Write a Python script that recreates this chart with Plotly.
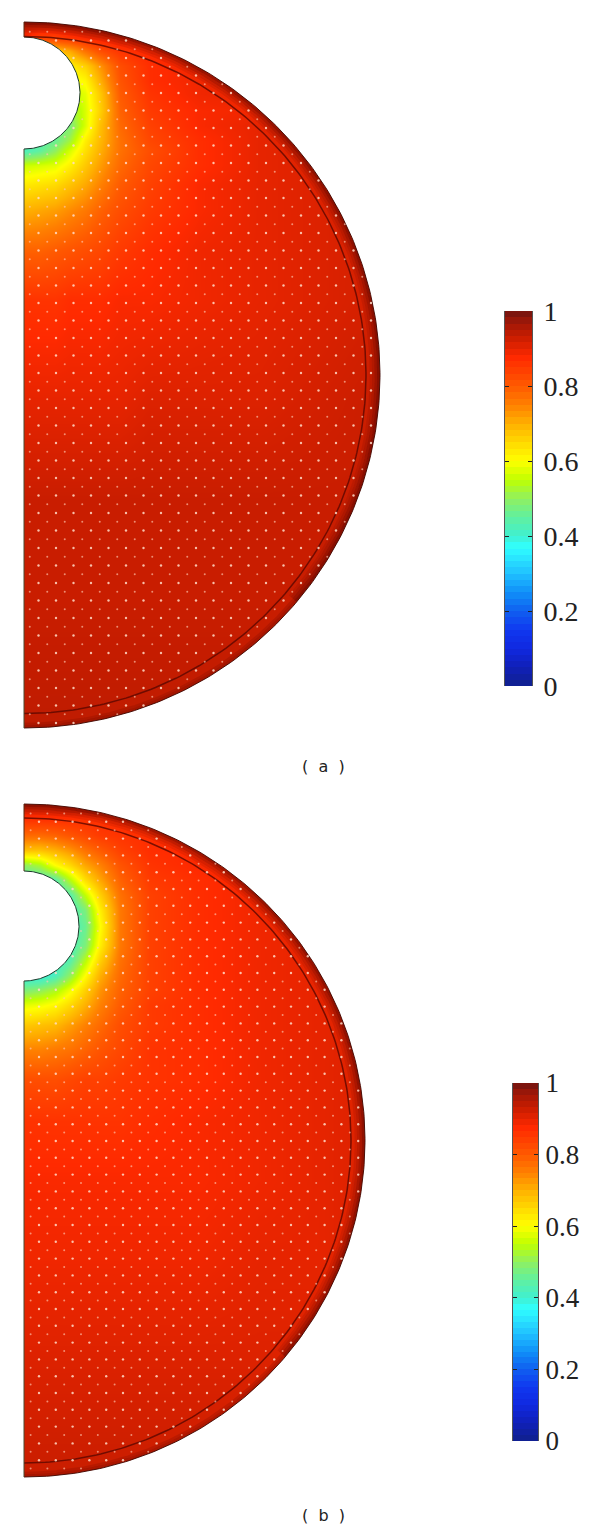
import numpy as np
import plotly.graph_objects as go

PAGE_W = 600
PAGE_H = 1531

# colour ramp
scale_stops = [0, .05, .1, .15, .2, .25, .3, .37, .4, .45, .5, .55, .6, .65, .7, .75, .8, .875, .935, .97, 1]
scale_colors = ['#10208c', '#1020b8', '#1028e0', '#1038f0', '#1060f0', '#1090f8', '#20c0ff', '#30ffff',
                '#40f0d0', '#60f0a0', '#90f060', '#bfff00', '#ffff00', '#ffd800', '#ffb000', '#ff8000',
                '#ff5a00', '#ff2a00', '#c41c00', '#a01808', '#701410']

# panel (a) field
a_x = [24, 40, 55, 70, 85, 100, 120, 150, 200, 260, 320, 380]
a_y = [22, 37, 50, 65, 80, 93, 110, 125, 140, 150, 165, 185, 210, 250, 300, 400, 500, 600, 728]
a_z = [
    [.93, .93, .93, .94, .94, .94, .95, .95, .96, .96, .96, .96],
    [.88, .84, .84, .86, .88, .89, .90, .90, .90, .90, .90, .90],
    [.70, .70, .68, .71, .77, .82, .86, .88, .89, .90, .90, .90],
    [.62, .62, .62, .62, .66, .73, .82, .87, .89, .90, .90, .90],
    [.58, .58, .58, .58, .61, .70, .81, .87, .89, .90, .91, .91],
    [.55, .55, .55, .55, .58, .67, .80, .86, .89, .90, .91, .91],
    [.50, .50, .50, .50, .57, .66, .79, .85, .88, .89, .91, .91],
    [.46, .46, .46, .48, .57, .68, .78, .84, .88, .90, .91, .91],
    [.44, .44, .46, .52, .62, .69, .77, .83, .87, .90, .91, .92],
    [.42, .45, .50, .57, .64, .70, .77, .82, .87, .90, .91, .92],
    [.56, .57, .58, .62, .67, .72, .78, .83, .87, .90, .91, .92],
    [.63, .64, .65, .68, .71, .75, .80, .84, .88, .90, .91, .92],
    [.70, .71, .72, .74, .76, .79, .82, .85, .88, .90, .91, .92],
    [.79, .79, .80, .81, .82, .83, .85, .87, .89, .90, .91, .92],
    [.86, .86, .86, .87, .87, .87, .88, .88, .89, .90, .91, .92],
    [.90, .90, .90, .90, .90, .90, .90, .91, .91, .91, .92, .93],
    [.93, .93, .93, .93, .93, .93, .93, .93, .93, .93, .93, .93],
    [.93, .93, .93, .93, .93, .93, .93, .93, .93, .93, .93, .93],
    [.94, .94, .94, .94, .94, .94, .94, .94, .94, .94, .94, .94],
]

# panel (b) field
b_x = [24, 40, 55, 70, 85, 100, 120, 150, 200, 260, 320, 365]
b_y = [804, 818, 835, 850, 865, 880, 895, 910, 926, 945, 960, 975, 990, 1005, 1025, 1050, 1080,
       1120, 1180, 1260, 1360, 1477]
b_z = [
    [.92, .92, .92, .92, .92, .93, .93, .94, .95, .95, .95, .95],
    [.87, .87, .87, .87, .87, .87, .88, .88, .89, .90, .90, .90],
    [.78, .78, .79, .81, .83, .85, .86, .87, .88, .89, .90, .90],
    [.68, .68, .70, .73, .77, .80, .84, .87, .88, .89, .90, .90],
    [.50, .53, .60, .65, .71, .75, .81, .86, .88, .89, .90, .90],
    [.42, .42, .44, .54, .64, .71, .79, .85, .87, .89, .90, .90],
    [.42, .42, .42, .44, .55, .66, .77, .84, .87, .89, .90, .91],
    [.42, .42, .42, .42, .48, .62, .76, .84, .87, .89, .90, .91],
    [.42, .42, .42, .42, .46, .60, .76, .84, .87, .89, .90, .91],
    [.42, .42, .42, .42, .48, .62, .76, .84, .87, .89, .90, .91],
    [.40, .40, .40, .44, .54, .66, .77, .84, .87, .89, .90, .91],
    [.38, .38, .42, .50, .60, .70, .78, .84, .87, .89, .90, .91],
    [.48, .50, .53, .59, .66, .73, .79, .84, .87, .89, .90, .91],
    [.58, .59, .61, .65, .70, .75, .80, .85, .87, .89, .90, .91],
    [.67, .68, .69, .72, .75, .78, .82, .85, .87, .89, .90, .91],
    [.75, .75, .76, .77, .79, .81, .83, .86, .87, .89, .90, .91],
    [.82, .82, .82, .83, .84, .84, .85, .86, .87, .89, .90, .91],
    [.86, .86, .86, .86, .86, .86, .86, .87, .88, .89, .90, .91],
    [.88, .88, .88, .88, .88, .88, .88, .88, .88, .89, .90, .91],
    [.89, .89, .89, .89, .89, .89, .89, .89, .89, .90, .90, .91],
    [.91, .91, .91, .91, .91, .91, .91, .91, .91, .91, .91, .92],
    [.93, .93, .93, .93, .93, .93, .93, .93, .93, .93, .93, .93],
]

tick_vals = [0, 0.2, 0.4, 0.6, 0.8, 1]
tick_text = ['0', '0.2', '0.4', '0.6', '0.8', '1']
bar_levels = [i / 60 for i in range(61)]

colorscale = [[s, c] for s, c in zip(scale_stops, scale_colors)]


def arc(cx, cy, rx, ry, a0=-90, a1=90, n=240):
    t = np.radians(np.linspace(a0, a1, n))
    return cx + rx * np.cos(t), cy + ry * np.sin(t)


def line(x, y, color, width):
    return go.Scatter(x=x, y=y, mode='lines', line=dict(color=color, width=width), hoverinfo='skip')


def add_panel(fig, xs, ys, zs, cy, rx, ry, ix, iy, hole_cy, hole_r, dot_x, dot_y, dot_dx, dot_dy):
    cx = 24
    top, bottom = cy - ry, cy + ry
    fig.add_trace(go.Heatmap(x=xs, y=ys, z=zs, zmin=0, zmax=1, zsmooth='best',
                             colorscale=colorscale, showscale=False, hoverinfo='skip'))

    # white masks around the half disc and over the hole
    ax, ay = arc(cx, cy, rx, ry)
    ax = np.r_[ax, cx, cx + rx + 50, cx + rx + 50, cx]
    ay = np.r_[ay, bottom + 72, bottom + 72, top - 20, top - 20]
    fig.add_trace(go.Scatter(x=ax, y=ay, mode='lines', fill='toself', fillcolor='white',
                             line=dict(width=0), hoverinfo='skip'))
    fig.add_trace(go.Scatter(x=[cx - 20, cx, cx, cx - 20], y=[top - 20, top - 20, bottom + 72, bottom + 72],
                             mode='lines', fill='toself', fillcolor='white', line=dict(width=0), hoverinfo='skip'))
    hx, hy = arc(cx, hole_cy, hole_r, hole_r)
    fig.add_trace(go.Scatter(x=hx, y=hy, mode='lines', fill='toself', fillcolor='white',
                             line=dict(color='#1d3a2c', width=1), hoverinfo='skip'))

    # darkening toward the outer wall of the shell
    for k, alpha in [(1.5, .5), (4, .34), (6.5, .2), (9, .1)]:
        x, y = arc(cx, cy, rx - k, ry - k, a0=-90, a1=40)
        fig.add_trace(line(x, y, f'rgba(70,0,0,{alpha})', 2.6))
    for k, alpha in [(1.5, .25), (4, .14)]:
        x, y = arc(cx, cy, rx - k, ry - k, a0=40, a1=90)
        fig.add_trace(line(x, y, f'rgba(70,0,0,{alpha})', 2.6))

    x, y = arc(cx, cy, ix, iy)
    fig.add_trace(line(x, y, 'rgba(90,8,0,.8)', 1.5))
    x, y = arc(cx, cy, rx, ry)
    fig.add_trace(line(x, y, 'rgba(60,5,0,.9)', 1))
    fig.add_trace(line([cx, cx], [top, hole_cy - hole_r], '#5a2a10', 1))
    fig.add_trace(line([cx, cx], [hole_cy + hole_r, bottom], '#4a4a30', 1))

    # staggered arrow dots, two alternating rows
    for off, color, size in [(0, 'rgba(255,220,200,.85)', 2.4), (1, 'rgba(255,200,175,.65)', 2)]:
        gx, gy = np.meshgrid(np.arange(dot_x - off * dot_dx / 2, cx + rx, dot_dx),
                             np.arange(dot_y + off * dot_dy / 2, bottom, dot_dy))
        gx, gy = gx.ravel(), gy.ravel()
        keep = (((gx - cx) / (rx - 1)) ** 2 + ((gy - cy) / (ry - 1)) ** 2 < 1) & \
               ((gx - cx) ** 2 + (gy - hole_cy) ** 2 > (hole_r + 1) ** 2) & (gx > cx)
        fig.add_trace(go.Scatter(x=gx[keep], y=gy[keep], mode='markers',
                                 marker=dict(size=size, color=color, line=dict(width=0)), hoverinfo='skip'))


fig = go.Figure()
add_panel(fig, a_x, a_y, a_z, cy=375, rx=356, ry=353, ix=342, iy=338.5, hole_cy=93, hole_r=56,
          dot_x=38.5, dot_y=23, dot_dx=17.5, dot_dy=17.5)
add_panel(fig, b_x, b_y, b_z, cy=1140.5, rx=341, ry=336.5, ix=327, iy=322.5, hole_cy=926, hole_r=55,
          dot_x=39, dot_y=805, dot_dx=16.8, dot_dy=16.8)

# the two legend bars
for n, (x0, x1, y0, y1), standoff, fsize in zip(['3', '4'], [(505, 532, 311, 686), (513, 538, 1083, 1441)],
                                                [5, 1], [28, 27]):
    fig.add_trace(go.Heatmap(x=[0, 1], y=bar_levels, z=[[(a + b) / 2] for a, b in zip(bar_levels, bar_levels[1:])],
                             zmin=0, zmax=1, colorscale=colorscale, showscale=False, hoverinfo='skip',
                             xaxis='x' + n, yaxis='y' + n))
    fig.update_layout({
        'xaxis' + n: dict(domain=[x0 / PAGE_W, x1 / PAGE_W], range=[0, 1], anchor='y' + n, visible=False),
        'yaxis' + n: dict(domain=[1 - y1 / PAGE_H, 1 - y0 / PAGE_H], range=[0, 1], anchor='x' + n, side='right',
                          tickvals=tick_vals, ticktext=tick_text, ticks='inside', ticklen=4, tickwidth=1,
                          tickcolor='#222222', mirror='ticks', showline=True, linecolor='#555555', linewidth=1,
                          showgrid=False, zeroline=False, ticklabelstandoff=standoff,
                          tickfont=dict(family='Liberation Serif', size=fsize, color='#222222')),
    })

fig.update_layout(
    width=PAGE_W,
    height=PAGE_H,
    margin=dict(l=0, r=0, t=0, b=0, autoexpand=False),
    paper_bgcolor='white',
    plot_bgcolor='white',
    showlegend=False,
    xaxis=dict(domain=[0, 1], range=[0, PAGE_W], visible=False),
    yaxis=dict(domain=[0, 1], range=[PAGE_H, 0], visible=False),
)

for label, y in [('(\u00a0\u00a0a\u00a0\u00a0)', 766), ('(\u00a0\u00a0b\u00a0\u00a0)', 1515)]:
    fig.add_annotation(x=323, y=y, text=label, showarrow=False,
                       font=dict(family='DejaVu Sans', size=16, color='#222222'))

fig.write_html("out.html", config={'displayModeBar': False}, post_script="document.body.style.margin='0';")
